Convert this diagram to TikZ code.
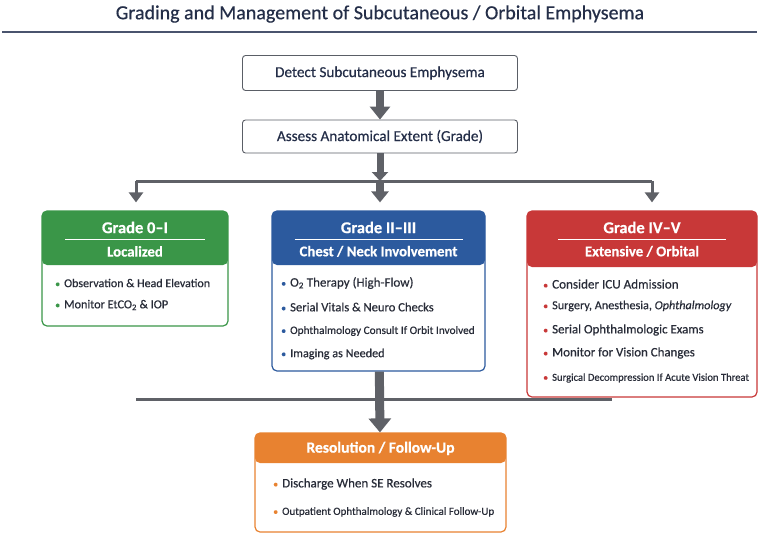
\documentclass[tikz,border=0pt]{standalone}
\usepackage{fontspec}
\setmainfont{Carlito}[FakeBold=0.5]
\usetikzlibrary{arrows.meta, positioning}
\definecolor{gradegreen}{RGB}{58,150,72}
\definecolor{gradeblue}{RGB}{44,90,158}
\definecolor{gradered}{RGB}{200,56,56}
\definecolor{gradeorange}{RGB}{232,130,48}
\definecolor{navytext}{RGB}{36,46,72}
\definecolor{titlerule}{RGB}{74,84,110}
\definecolor{linkgray}{RGB}{95,97,103}
\definecolor{boxgray}{RGB}{90,94,102}
\definecolor{bodytext}{RGB}{40,44,56}
\newcommand\cardbullet[1]{\textcolor{#1}{\fontsize{10}{10}\selectfont\textbullet}\hspace{4pt}}

\begin{document}
\begin{tikzpicture}[x=1pt, y=-1pt,
    stepbox/.style={draw=boxgray, line width=0.9pt, rounded corners=3pt, fill=white, minimum width=275pt, minimum height=35pt, inner sep=0pt, font=\fontsize{15.2}{18}\selectfont, text=navytext},
    card/.style 2 args={draw=#1, line width=1.2pt, rounded corners=5pt, fill=white, inner sep=0pt,
        path picture={\fill[#1] (path picture bounding box.north west) rectangle ([yshift=-#2]path picture bounding box.north east);}},
    headtitle/.style={text=white, font=\bfseries\fontsize{16.5}{19}\selectfont, inner sep=0pt},
    headsub/.style={text=white, font=\bfseries\fontsize{14.8}{17}\selectfont, inner sep=0pt},
    headrule/.style={draw=white, line width=1pt},
    item/.style={anchor=west, inner sep=0pt, text=bodytext, font=\fontsize{12}{14}\selectfont},
    bigarrow/.style={draw=linkgray, line width=8pt, -{Triangle[width=20pt, length=13pt]}},
    link/.style={draw=linkgray, line width=3pt},
    linkarrow/.style={link, -{Triangle[width=14pt, length=10pt]}, shorten >=8pt},
]
    \useasboundingbox (0,0) rectangle (760,536);

    % Title
    \node[font=\fontsize{20}{24}\selectfont, text=navytext] (title) at (380,14) {Grading and Management of Subcutaneous / Orbital Emphysema};
    \coordinate (rulel) at (2,32);
    \coordinate (ruler) at (757,32);
    \draw[titlerule, line width=1.2pt] (rulel) -- (ruler);

    % Steps
    \node[stepbox] (detect) at (380,73) {Detect Subcutaneous Emphysema};
    \node[stepbox, minimum height=33pt] (assess) at (380,136.5) {Assess Anatomical Extent (Grade)};

    % Grade cards
    \node[card={gradegreen}{54pt}, minimum width=186pt, minimum height=115pt] (lowcard) at (135,268.5) {};
    \node[card={gradeblue}{54pt}, minimum width=213pt, minimum height=160pt] (midcard) at (378.5,291) {};
    \node[card={gradered}{56pt}, minimum width=230pt, minimum height=186pt] (highcard) at (642,304) {};
    \node[card={gradeorange}{30pt}, minimum width=251pt, minimum height=99pt] (followcard) at (380.5,482.5) {};

    % Headers
    \node[headtitle] (lowtitle) at ([yshift=-17pt]lowcard.north) {Grade 0–I};
    \draw[headrule] ([xshift=-70pt, yshift=-29pt]lowcard.north) -- ([xshift=70pt, yshift=-29pt]lowcard.north);
    \node[headsub] (lowsub) at ([yshift=-41pt]lowcard.north) {Localized};

    \node[headtitle] (midtitle) at ([yshift=-17pt]midcard.north) {Grade II–III};
    \draw[headrule] ([xshift=-84pt, yshift=-29pt]midcard.north) -- ([xshift=84pt, yshift=-29pt]midcard.north);
    \node[headsub] (midsub) at ([yshift=-41pt]midcard.north) {Chest / Neck Involvement};

    \node[headtitle] (hightitle) at ([yshift=-17pt]highcard.north) {Grade IV–V};
    \draw[headrule] ([xshift=-84pt, yshift=-29pt]highcard.north) -- ([xshift=84pt, yshift=-29pt]highcard.north);
    \node[headsub] (highsub) at ([yshift=-41pt]highcard.north) {Extensive / Orbital};

    \node[headtitle, font=\bfseries\fontsize{15.5}{18}\selectfont] (followtitle) at ([yshift=-16pt]followcard.north) {Resolution / Follow-Up};

    % Items
    \node[item] (low1) at (55,283) {\cardbullet{gradegreen}Observation \& Head Elevation};
    \node[item, font=\fontsize{12.2}{14}\selectfont] (low2) at (55,305) {\cardbullet{gradegreen}Monitor EtCO\textsubscript{2} \& IOP};

    \node[item, font=\fontsize{13}{14}\selectfont] (mid1) at (281,283) {\cardbullet{gradeblue}O\textsubscript{2} Therapy (High-Flow)};
    \node[item, font=\fontsize{12.6}{14}\selectfont] (mid2) at (281,307) {\cardbullet{gradeblue}Serial Vitals \& Neuro Checks};
    \node[item, font=\fontsize{11.3}{14}\selectfont] (mid3) at (281,331) {\cardbullet{gradeblue}Ophthalmology Consult If Orbit Involved};
    \node[item, font=\fontsize{12.2}{14}\selectfont] (mid4) at (281,354) {\cardbullet{gradeblue}Imaging as Needed};

    \node[item, font=\fontsize{13.1}{14}\selectfont] (high1) at (543,284) {\cardbullet{gradered}Consider ICU Admission};
    \node[item, font=\fontsize{12.2}{14}\selectfont] (high2) at (543,306) {\cardbullet{gradered}Surgery, Anesthesia, \textit{Ophthalmology}};
    \node[item, font=\fontsize{12.9}{14}\selectfont] (high3) at (543,330) {\cardbullet{gradered}Serial Ophthalmologic Exams};
    \node[item, font=\fontsize{12.9}{14}\selectfont] (high4) at (543,353) {\cardbullet{gradered}Monitor for Vision Changes};
    \node[item, font=\fontsize{10.6}{14}\selectfont] (high5) at (543,378) {\cardbullet{gradered}Surgical Decompression If Acute Vision Threat};

    \node[item, font=\fontsize{13}{14}\selectfont] (follow1) at (273,484) {\cardbullet{gradeorange}Discharge When SE Resolves};
    \node[item, font=\fontsize{11}{14}\selectfont] (follow2) at (273,512) {\cardbullet{gradeorange}Outpatient Ophthalmology \& Clinical Follow-Up};

    % Connections
    \coordinate (split) at (380,181);
    \coordinate (leftturn) at (136,181);
    \coordinate (rightturn) at (652,181);
    \coordinate (lowbarl) at (136,399);
    \coordinate (lowbarr) at (612,399);

    \draw[bigarrow] (detect) -- (assess);
    \draw[bigarrow, line width=7pt, -{Triangle[width=16pt, length=9pt]}] (assess) -- (split);
    \draw[link] (leftturn) -- (rightturn);
    \draw[linkarrow] (leftturn) -- (leftturn |- lowcard.north);
    \draw[linkarrow] (rightturn) -- (rightturn |- highcard.north);
    \draw[bigarrow, -{Triangle[width=17pt, length=11pt]}, shorten >=8pt] (split) -- (split |- midcard.north);
    \draw[bigarrow, line width=9pt, -{Triangle[width=22pt, length=14pt]}] (midcard) -- (followcard);
    \draw[link] (lowbarl) -- (lowbarr);

\end{tikzpicture}
\end{document}
